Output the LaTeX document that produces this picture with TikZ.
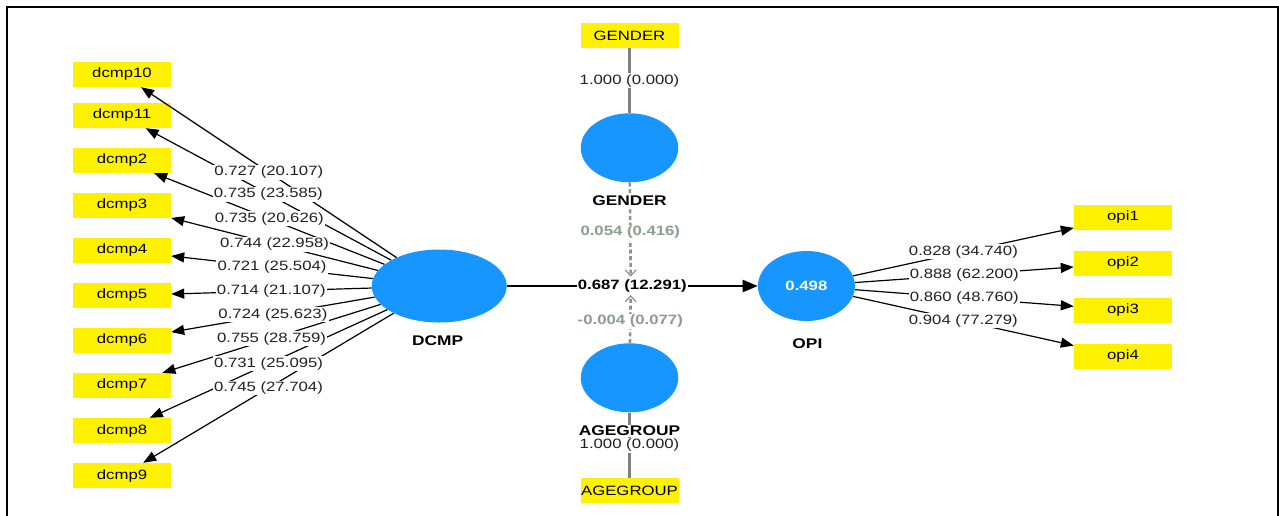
\documentclass[tikz,border=0pt]{standalone}
\usepackage{fontspec}
\setmainfont{Liberation Sans}[FakeStretch=1.24]
\usetikzlibrary{shapes.geometric,arrows.meta}
\definecolor{nodeblue}{RGB}{24,150,255}
\definecolor{modgray}{RGB}{132,150,132}
\definecolor{modtext}{RGB}{140,158,140}
\definecolor{linkgray}{RGB}{128,128,128}
\definecolor{labtext}{RGB}{34,34,34}
\begin{document}
\begin{tikzpicture}[x=1pt,y=-1pt,
  ind/.style={fill=yellow, minimum width=98pt, minimum height=25pt, inner sep=0pt, font=\fontsize{13.5}{16}\selectfont},
  lv/.style={ellipse, fill=nodeblue, inner sep=0pt},
  lvname/.style={font=\bfseries\fontsize{14}{16}\selectfont, inner sep=1pt},
  load/.style={line width=1.2pt, -{Triangle[length=13pt,width=10pt]}},
  lab/.style={font=\fontsize{13.5}{16}\selectfont, text=labtext, fill=white, inner sep=1.2pt},
  mainarrow/.style={line width=2.2pt, -{Triangle[length=15pt,width=12pt]}},
  modline/.style={draw=modgray, line width=2.6pt, dash pattern=on 4pt off 2.7pt, -{Straight Barb[length=6pt,width=11pt,line width=1.2pt]}},
  modlab/.style={font=\bfseries\fontsize{13.5}{16}\selectfont, text=modtext, fill=white, inner sep=1.2pt},
  glink/.style={draw=linkgray, line width=2.5pt}
]
\useasboundingbox (0,0) rectangle (1279,515);
\draw[line width=2pt] (6.5,7) rectangle (1277.5,540);

% indicators
\foreach \n/\y/\t in {d10/74.5/dcmp10, d11/115.5/dcmp11, d2/160.5/dcmp2, d3/205.5/dcmp3, d4/250.5/dcmp4, d5/295.5/dcmp5, d6/340.5/dcmp6, d7/385.5/dcmp7, d8/430.5/dcmp8, d9/475.5/dcmp9}
  \node[ind] (\n) at (122,\y) {\t};
\foreach \n/\y/\t in {o1/217.3/opi1, o2/263.5/opi2, o3/310/opi3, o4/356.4/opi4}
  \node[ind] (\n) at (1123,\y) {\t};
\node[ind] (gbox) at (629.5,35.5) {GENDER};
\node[ind] (abox) at (629.5,490.5) {AGEGROUP};

% latent variables
\node[lv, minimum width=135pt, minimum height=73pt] (DCMP) at (439.2,286) {};
\node[lv, minimum width=97pt, minimum height=70pt, text=white, font=\bfseries\fontsize{13.5}{16}\selectfont] (OPI) at (806.4,286) {0.498};
\node[lv, minimum width=97.5pt, minimum height=69pt] (GEN) at (629.5,147.8) {};
\node[lv, minimum width=97.5pt, minimum height=69pt] (AGE) at (629.5,377.8) {};

\coordinate (gtip) at (630.7,276.7);
\coordinate (atip) at (630.7,295);

% loadings
\foreach \n in {d10,d11,d2,d3,d4,d5,d6,d7,d8,d9}
  \draw[load] (DCMP) -- (\n);
\foreach \n in {o1,o2,o3,o4}
  \draw[load] (OPI) -- (\n);
\foreach \n/\l in {d10/0.727 (20.107), d11/0.735 (23.585), d2/0.735 (20.626), d3/0.744 (22.958), d4/0.721 (25.504), d5/0.714 (21.107), d6/0.724 (25.623), d7/0.755 (28.759), d8/0.731 (25.095), d9/0.745 (27.704)}
  \path (DCMP) -- (\n) node[midway,lab] {\l};
\foreach \n/\l in {o1/0.828 (34.740), o2/0.888 (62.200), o3/0.860 (48.760), o4/0.904 (77.279)}
  \path (OPI) -- (\n) node[midway,lab] {\l};

% single-item links
\draw[glink] (gbox) -- (GEN) node[midway,lab] {1.000 (0.000)};
\draw[glink] (AGE) -- (abox) node[midway,lab] {1.000 (0.000)};

% moderating effects
\draw[modline] (GEN) -- (gtip) node[pos=0.53,modlab] {0.054 (0.416)};
\draw[modline] (AGE) -- (atip) node[pos=0.45,modlab] {-0.004 (0.077)};

% structural path
\draw[mainarrow] (DCMP) -- (OPI) node[midway,lab,font=\bfseries\fontsize{13.5}{16}\selectfont,text=black] {0.687 (12.291)};

% names
\node[lvname] (DCMPn) at (437.7,341) {DCMP};
\node[lvname] (OPIn) at (807.4,343.7) {OPI};
\node[lvname, fill=white] (GENn) at (629.5,200.7) {GENDER};
\node[lvname, fill=white] (AGEn) at (629.5,430.7) {AGEGROUP};
\end{tikzpicture}
\end{document}
